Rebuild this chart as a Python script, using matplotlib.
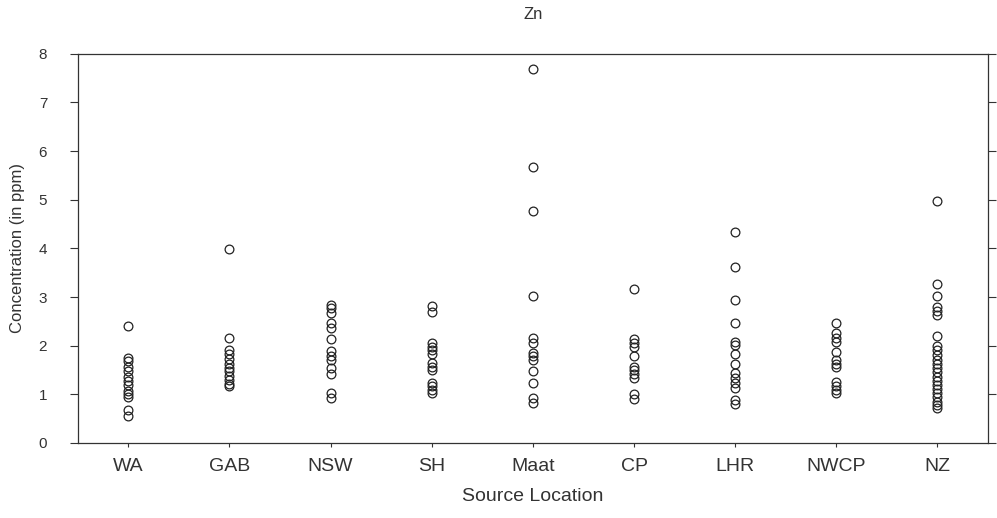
import matplotlib.pyplot as plt

plt.rcParams['font.family'] = ['Liberation Sans', 'DejaVu Sans']

# --- Zn concentration (ppm) by source location ---
locations = ['WA', 'GAB', 'NSW', 'SH', 'Maat', 'CP', 'LHR', 'NWCP', 'NZ']

wa = [2.41, 1.74, 1.68, 1.56, 1.48, 1.36, 1.28, 1.2, 1.06, 1.0, 0.95, 0.67, 0.56]
gab = [3.99, 2.15, 1.9, 1.82, 1.72, 1.63, 1.55, 1.47, 1.38, 1.3, 1.22, 1.17]
nsw = [2.84, 2.77, 2.67, 2.46, 2.36, 2.13, 1.88, 1.79, 1.71, 1.54, 1.42, 1.03, 0.93]
sh = [2.82, 2.7, 2.06, 1.98, 1.9, 1.82, 1.65, 1.57, 1.49, 1.24, 1.16, 1.08, 1.02]
maat = [7.68, 5.68, 4.76, 3.02, 2.15, 2.06, 1.85, 1.78, 1.71, 1.48, 1.23, 0.93, 0.83]
cp = [3.17, 2.14, 2.05, 1.97, 1.79, 1.57, 1.5, 1.42, 1.33, 1.0, 0.91]
lhr = [4.34, 3.62, 2.93, 2.47, 2.08, 2.02, 1.83, 1.63, 1.43, 1.33, 1.23, 1.13, 0.88, 0.79]
nwcp = [2.47, 2.25, 2.16, 2.08, 1.86, 1.71, 1.63, 1.56, 1.25, 1.17, 1.09, 1.03]
nz = [4.97, 3.27, 3.02, 2.8, 2.72, 2.63, 2.2, 2.0, 1.91, 1.81, 1.71, 1.63, 1.54,
      1.45, 1.36, 1.28, 1.19, 1.11, 1.02, 0.94, 0.85, 0.78, 0.72]

groups = [wa, gab, nsw, sh, maat, cp, lhr, nwcp, nz]

fig = plt.figure(figsize=(9.97, 5.18), dpi=100)
ax = fig.add_axes([0.078, 0.145, 0.913, 0.751])

for i, vals in enumerate(groups):
    ax.plot([i] * len(vals), vals, linestyle='none', marker='o',
            markersize=6.3, markerfacecolor='none', markeredgecolor='#222222',
            markeredgewidth=0.9)

ax.set_xlim(-0.5, len(locations) - 0.5)
ax.set_ylim(0, 8)
ax.set_xticks(range(len(locations)))
ax.set_xticklabels(locations, fontsize=14, color='#333333')
ax.set_yticks(range(0, 9))
ax.tick_params(axis='y', labelsize=11, length=6, width=0.8, colors='#333333',
               right=True, direction='out', pad=16)
ax.tick_params(axis='x', length=3, width=0.8, pad=8, colors='#333333')

for s in ax.spines.values():
    s.set_linewidth(0.9)
    s.set_color('#333333')

ax.set_title('Zn', fontsize=12, color='#333333', pad=25)
ax.set_xlabel('Source Location', fontsize=14, color='#333333', labelpad=9)
ax.set_ylabel('Concentration (in ppm)', fontsize=12, color='#333333', labelpad=10)

plt.savefig('out.png', dpi=100)
